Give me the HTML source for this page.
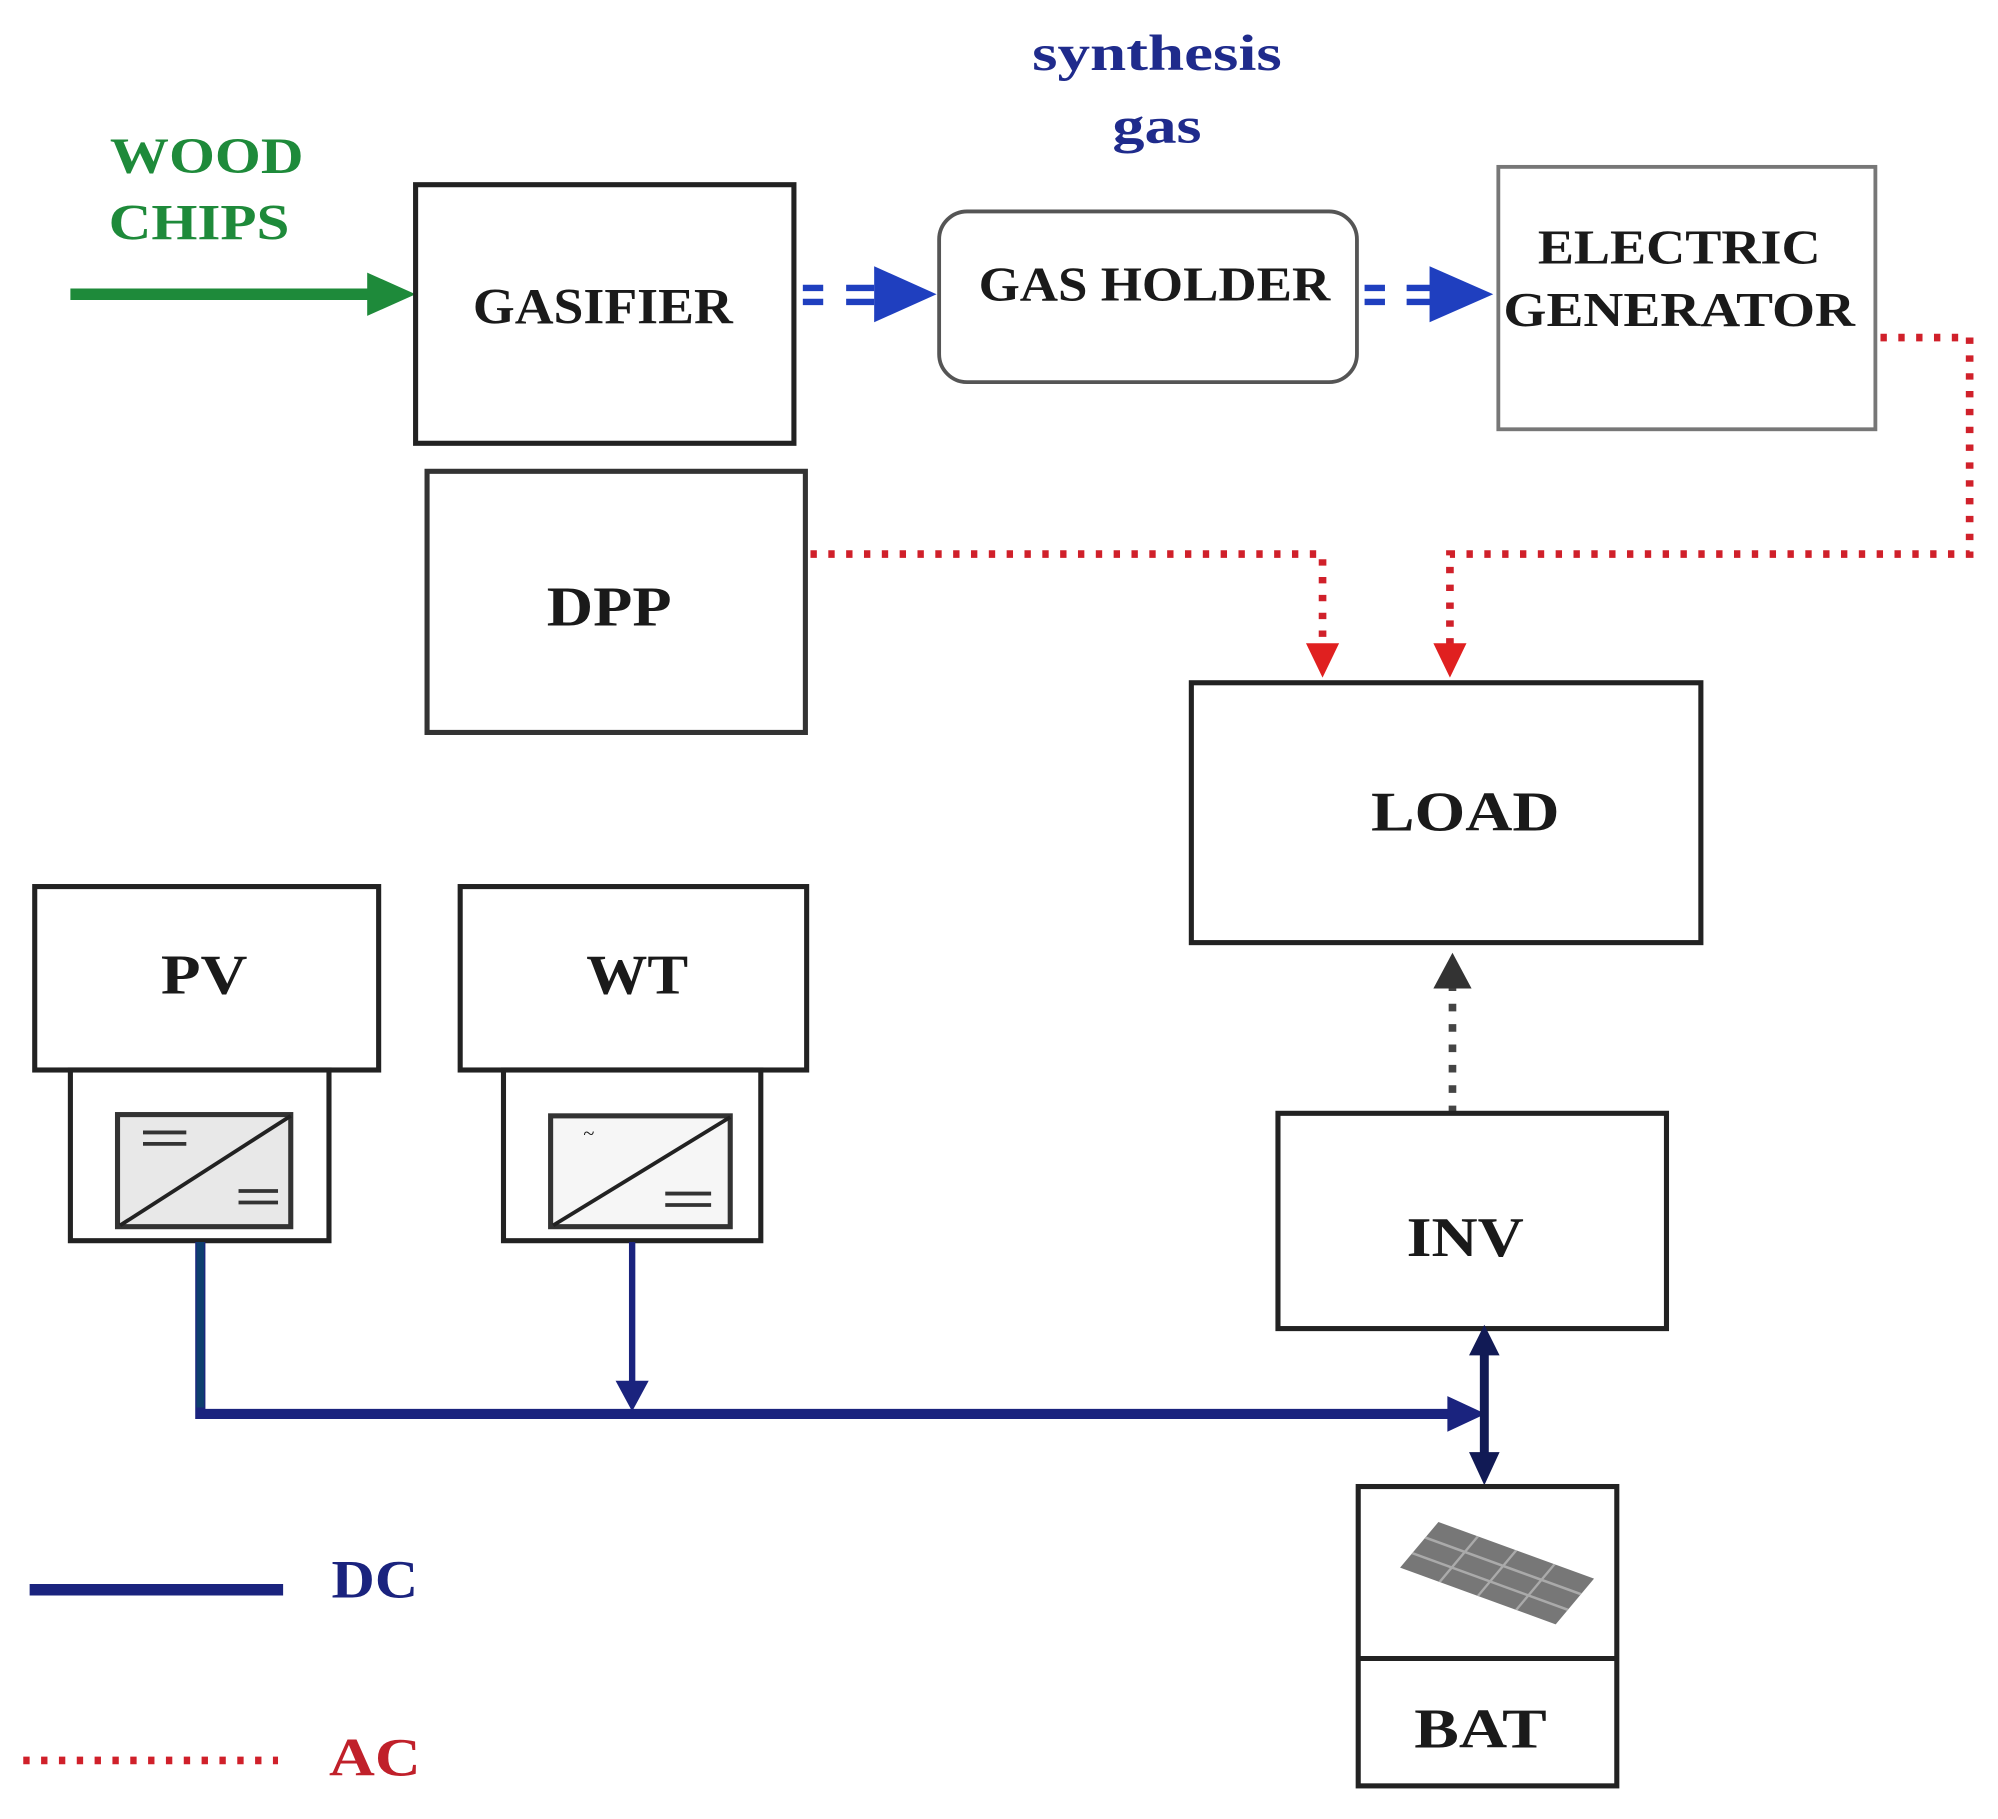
<!DOCTYPE html>
<html><head><meta charset="utf-8"><style>html,body{margin:0;padding:0;background:#fff}svg{display:block}</style></head>
<body>
<svg width="1998" height="1819" viewBox="0 0 1568 1428" xmlns="http://www.w3.org/2000/svg" font-family="Liberation Serif, serif" font-weight="bold">
<defs>
<marker id="ab" markerWidth="10" markerHeight="10" refX="9" refY="5" orient="auto" markerUnits="userSpaceOnUse" viewBox="0 0 10 10"><path d="M0,0 L10,5 L0,10 z" fill="#1f3fbf"/></marker>
</defs>
<g font-size="40" text-anchor="middle" fill="#1a1a1a">
<!-- wood chips -->
<text x="162" y="136" fill="#1e8a3a" textLength="152" lengthAdjust="spacingAndGlyphs">WOOD</text>
<text x="156" y="188" fill="#1e8a3a" textLength="142" lengthAdjust="spacingAndGlyphs">CHIPS</text>
<line x1="55" y1="231" x2="292" y2="231" stroke="#1e8a3a" stroke-width="9"/>
<path d="M288,214 L326,231 L288,248 z" fill="#1e8a3a"/>
<!-- synthesis gas -->
<text x="908" y="55" fill="#1f2b8c" textLength="196" lengthAdjust="spacingAndGlyphs">synthesis</text>
<text x="908" y="112" fill="#1f2b8c" textLength="70" lengthAdjust="spacingAndGlyphs">gas</text>
<!-- gasifier -->
<rect x="326" y="145" width="297" height="203" fill="#fff" stroke="#222" stroke-width="4"/>
<text x="473" y="254" textLength="204" lengthAdjust="spacingAndGlyphs">GASIFIER</text>
<!-- arrows blue -->
<g stroke="#1f3fbf" stroke-width="5">
<line x1="630" y1="226" x2="646" y2="226"/><line x1="630" y1="237" x2="646" y2="237"/>
<line x1="664" y1="226" x2="686" y2="226"/><line x1="664" y1="237" x2="686" y2="237"/>
<line x1="1071" y1="226" x2="1087" y2="226"/><line x1="1071" y1="237" x2="1087" y2="237"/>
<line x1="1104" y1="226" x2="1124" y2="226"/><line x1="1104" y1="237" x2="1124" y2="237"/>
</g>
<path d="M686,209 L735,231 L686,253 z" fill="#1f3fbf"/>
<path d="M1122,209 L1172,231 L1122,253 z" fill="#1f3fbf"/>
<!-- gas holder -->
<rect x="737" y="166" width="328" height="134" rx="22" fill="#fff" stroke="#555" stroke-width="3"/>
<text x="906" y="236" font-size="38" textLength="276" lengthAdjust="spacingAndGlyphs">GAS HOLDER</text>
<!-- generator -->
<rect x="1176" y="131" width="296" height="206" fill="#fff" stroke="#777" stroke-width="3"/>
<text x="1318" y="207" font-size="38" textLength="222" lengthAdjust="spacingAndGlyphs">ELECTRIC</text>
<text x="1318" y="256" font-size="38" textLength="276" lengthAdjust="spacingAndGlyphs">GENERATOR</text>
<!-- DPP -->
<rect x="335" y="370" width="297" height="205" fill="#fff" stroke="#333" stroke-width="4"/>
<text x="478" y="491" font-size="44" textLength="98" lengthAdjust="spacingAndGlyphs">DPP</text>
<!-- AC lines -->
<g stroke="#d0202a" stroke-width="6" stroke-dasharray="5 9" fill="none">
<polyline points="1476,265 1546,265 1546,435 1138,435 1138,510"/>
<polyline points="636,435 1038,435 1038,510"/>
</g>
<path d="M1025,505 L1051,505 L1038,532 z" fill="#e02020"/>
<path d="M1125,505 L1151,505 L1138,532 z" fill="#e02020"/>
<!-- LOAD -->
<rect x="935" y="536" width="400" height="204" fill="#fff" stroke="#222" stroke-width="4"/>
<text x="1150" y="652" font-size="44" textLength="148" lengthAdjust="spacingAndGlyphs">LOAD</text>
<!-- INV -->
<line x1="1140" y1="874" x2="1140" y2="772" stroke="#444" stroke-width="6" stroke-dasharray="6 10"/>
<path d="M1125,776 L1140,748 L1155,776 z" fill="#333"/>
<rect x="1003" y="874" width="305" height="169" fill="#fff" stroke="#222" stroke-width="4"/>
<text x="1150" y="986" font-size="44" textLength="92" lengthAdjust="spacingAndGlyphs">INV</text>
<!-- PV -->
<rect x="27" y="696" width="270" height="144" fill="#fff" stroke="#222" stroke-width="4"/>
<text x="160" y="780" font-size="44" textLength="68" lengthAdjust="spacingAndGlyphs">PV</text>
<rect x="55" y="840" width="203" height="134" fill="#fff" stroke="#222" stroke-width="4"/>
<rect x="92" y="875" width="136" height="88" fill="#e8e8e8" stroke="#333" stroke-width="4"/>
<line x1="94" y1="962" x2="228" y2="876" stroke="#222" stroke-width="3"/>
<g stroke="#333" stroke-width="3"><line x1="112" y1="889" x2="146" y2="889"/><line x1="112" y1="898" x2="146" y2="898"/><line x1="187" y1="935" x2="218" y2="935"/><line x1="187" y1="944" x2="218" y2="944"/></g>
<!-- WT -->
<rect x="361" y="696" width="272" height="144" fill="#fff" stroke="#222" stroke-width="4"/>
<text x="500" y="780" font-size="44" textLength="80" lengthAdjust="spacingAndGlyphs">WT</text>
<rect x="395" y="840" width="202" height="134" fill="#fff" stroke="#222" stroke-width="4"/>
<rect x="432" y="876" width="141" height="87" fill="#f6f6f6" stroke="#333" stroke-width="4"/>
<line x1="434" y1="962" x2="573" y2="877" stroke="#222" stroke-width="3"/>
<text x="462" y="895" font-size="16" font-weight="normal">~</text>
<g stroke="#333" stroke-width="3"><line x1="522" y1="937" x2="558" y2="937"/><line x1="522" y1="946" x2="558" y2="946"/></g>
<!-- DC -->
<polyline points="157,975 157,1110 1140,1110" fill="none" stroke="#1a237e" stroke-width="8"/>
<line x1="157" y1="975" x2="157" y2="1105" stroke="#0d3f6e" stroke-width="6"/>
<line x1="496" y1="975" x2="496" y2="1088" stroke="#1a237e" stroke-width="5"/>
<path d="M483,1084 L509,1084 L496,1108 z" fill="#1a237e"/>
<path d="M1136,1096 L1166,1110 L1136,1124 z" fill="#1a237e"/>
<line x1="1165" y1="1062" x2="1165" y2="1142" stroke="#111a55" stroke-width="7"/>
<path d="M1153,1064 L1165,1040 L1177,1064 z" fill="#111a55"/>
<path d="M1153,1140 L1165,1166 L1177,1140 z" fill="#111a55"/>
<!-- BAT -->
<rect x="1066" y="1167" width="203" height="235" fill="#fff" stroke="#222" stroke-width="4"/>
<line x1="1066" y1="1302" x2="1269" y2="1302" stroke="#222" stroke-width="4"/>
<g transform="translate(1175,1235) rotate(20) skewX(-20)">
<rect x="-65" y="-22" width="130" height="44" fill="#777"/>
<g stroke="#aaa" stroke-width="2"><line x1="-65" y1="-7" x2="65" y2="-7"/><line x1="-65" y1="8" x2="65" y2="8"/><line x1="-32" y1="-22" x2="-32" y2="22"/><line x1="0" y1="-22" x2="0" y2="22"/><line x1="32" y1="-22" x2="32" y2="22"/></g>
</g>
<text x="1162" y="1372" font-size="44" textLength="104" lengthAdjust="spacingAndGlyphs">BAT</text>
<!-- legend -->
<line x1="23" y1="1248" x2="222" y2="1248" stroke="#1a237e" stroke-width="9"/>
<text x="294" y="1254" font-size="42" fill="#1a237e" textLength="68" lengthAdjust="spacingAndGlyphs">DC</text>
<line x1="18" y1="1382" x2="218" y2="1382" stroke="#d0202a" stroke-width="6" stroke-dasharray="5 9"/>
<text x="294" y="1394" font-size="42" fill="#c0202a" textLength="72" lengthAdjust="spacingAndGlyphs">AC</text>
</g>
</svg>
</body></html>
